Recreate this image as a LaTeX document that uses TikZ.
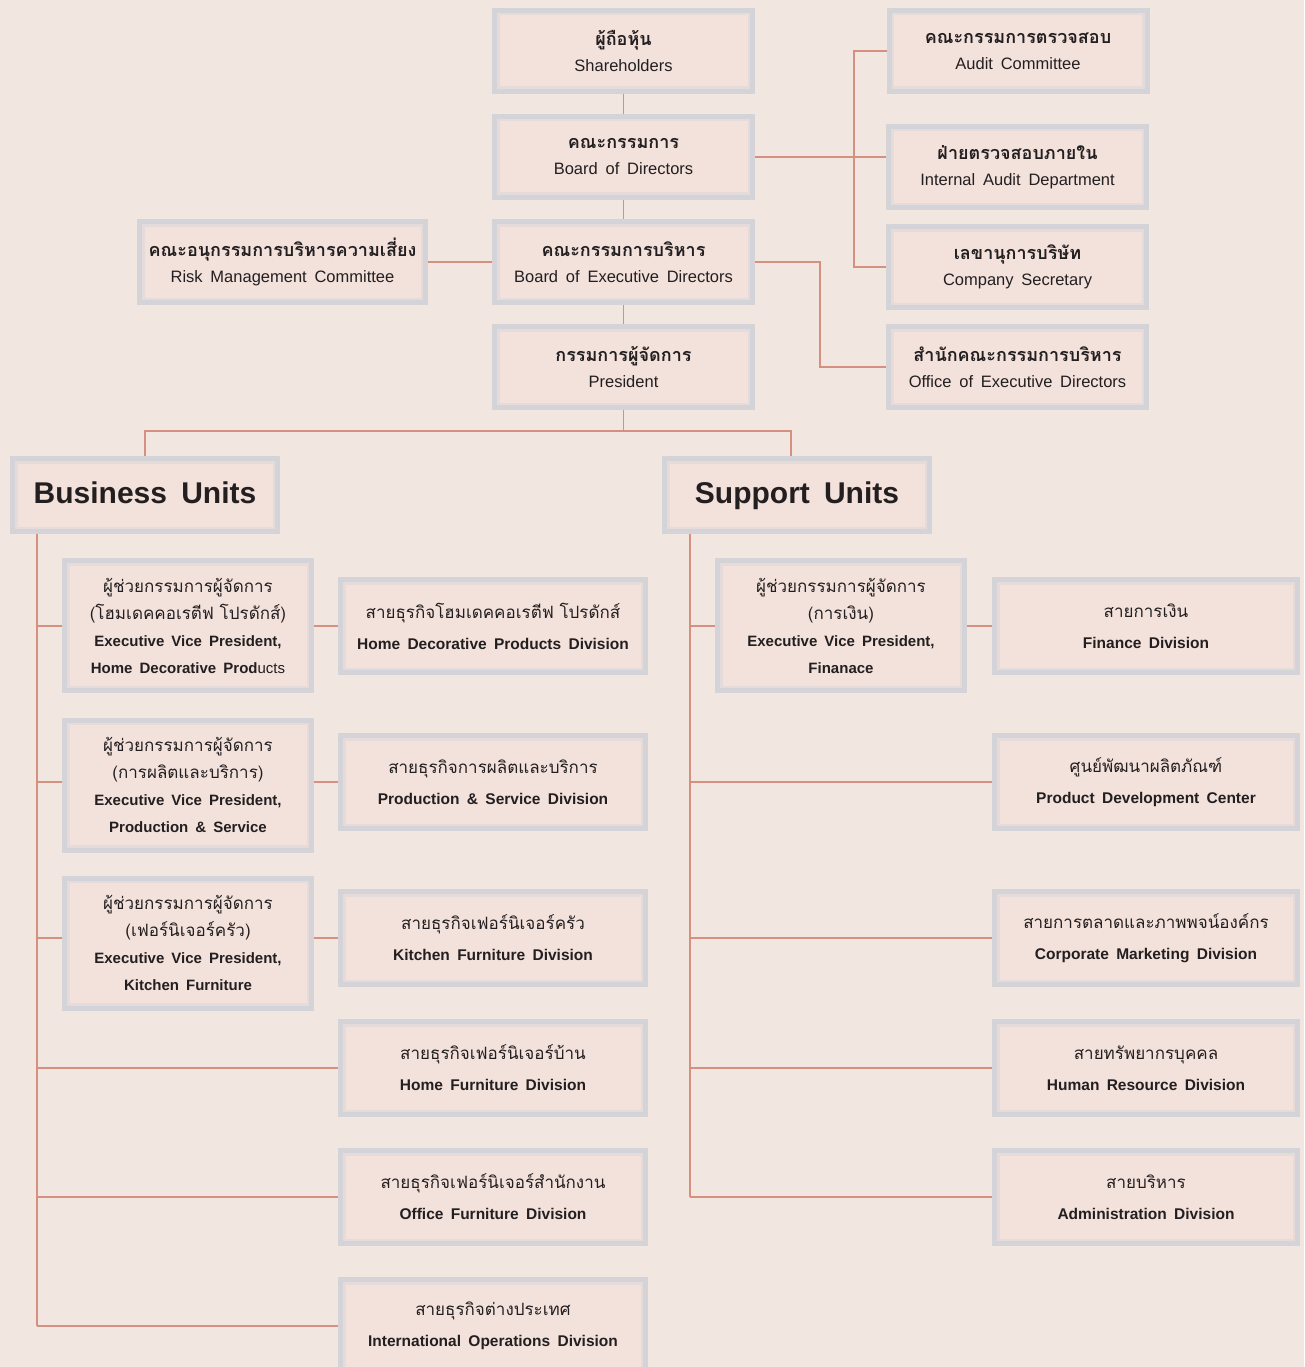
\documentclass[tikz,border=0pt]{standalone}
\usepackage{fontspec}
\setmainfont[WordSpace=1.7]{Liberation Sans}
\newfontfamily\thaifont[Script=Thai]{Loma}
\usetikzlibrary{positioning, calc}

\definecolor{pagebg}{HTML}{F2E6E1}
\definecolor{boxfill}{HTML}{F3E1DB}
\definecolor{boxframe}{HTML}{D4D4D8}
\definecolor{linkline}{HTML}{D6907F}
\definecolor{inktext}{HTML}{231F20}

\newcommand{\thaititle}[1]{{\thaifont\bfseries\fontsize{18}{26}\selectfont #1}}
\newcommand{\thaiplain}[1]{{\thaifont\fontsize{17}{27}\selectfont #1}}

\tikzset{
	unitbox/.style={draw=boxframe, fill=boxfill, line width=5pt, inner sep=0pt,
		align=center, text=inktext,
		path picture={\draw[boxframe!45!boxfill, line width=10pt]
			(path picture bounding box.south west) rectangle (path picture bounding box.north east);}},
	topbox/.style={unitbox, minimum width=258pt, minimum height=81pt, font=\fontsize{16.5}{26}\selectfont},
	groupbox/.style={unitbox, minimum width=265pt, minimum height=73pt, text height=22pt, text depth=6pt,
		font=\fontsize{30}{36}\selectfont\bfseries},
	evpbox/.style={unitbox, minimum width=247pt, minimum height=130pt, font=\fontsize{15}{27}\selectfont},
	divbox/.style={unitbox, minimum width=305pt, minimum height=93pt, font=\fontsize{15.5}{31}\selectfont},
	link/.style={draw=linkline, line width=1.2pt}
}

\begin{document}
\begin{tikzpicture}[x=1pt, y=-1pt]

		%Page
		\useasboundingbox[fill=pagebg] (0,0) rectangle (1304,1367);

		%Board column
		\node (share) at (623.5,51) [topbox]{\thaititle{ผู้ถือหุ้น}\\Shareholders};
		\node (board) at (623.5,157) [topbox]{\thaititle{คณะกรรมการ}\\Board of Directors};
		\node (exec) at (623.5,262) [topbox]{\thaititle{คณะกรรมการบริหาร}\\Board of Executive Directors};
		\node (pres) at (623.5,367) [topbox]{\thaititle{กรรมการผู้จัดการ}\\President};

		%Committees on the right
		\node (audit) at (1018,51) [topbox]{\thaititle{คณะกรรมการตรวจสอบ}\\Audit Committee};
		\node (intaudit) at (1017.5,167) [topbox]{\thaititle{ฝ่ายตรวจสอบภายใน}\\Internal Audit Department};
		\node (secretary) at (1017.5,267) [topbox]{\thaititle{เลขานุการบริษัท}\\Company Secretary};
		\node (office) at (1017.5,367) [topbox]{\thaititle{สำนักคณะกรรมการบริหาร}\\Office of Executive Directors};

		%Risk committee
		\node (risk) at (282.5,262) [topbox, minimum width=286pt]{\thaititle{คณะอนุกรรมการบริหารความเสี่ยง}\\Risk Management Committee};

		%Unit headers
		\node (business) at (145,495) [groupbox]{Business Units};
		\node (support) at (797,495) [groupbox]{Support Units};

		%Business units
		\node (evphome) at (188,625.5) [evpbox]{\thaiplain{ผู้ช่วยกรรมการผู้จัดการ}\\\thaiplain{(โฮมเดคคอเรตีฟ โปรดักส์)}\\{\bfseries Executive Vice President,}\\{\bfseries Home Decorative Prod}ucts};
		\node (evpprod) at (188,785) [evpbox]{\thaiplain{ผู้ช่วยกรรมการผู้จัดการ}\\\thaiplain{(การผลิตและบริการ)}\\{\bfseries Executive Vice President,}\\{\bfseries Production \& Service}};
		\node (evpkitchen) at (188,943) [evpbox]{\thaiplain{ผู้ช่วยกรรมการผู้จัดการ}\\\thaiplain{(เฟอร์นิเจอร์ครัว)}\\{\bfseries Executive Vice President,}\\{\bfseries Kitchen Furniture}};

		\node (homedeco) at (493,626) [divbox]{\thaiplain{สายธุรกิจโฮมเดคคอเรตีฟ โปรดักส์}\\{\bfseries Home Decorative Products Division}};
		\node (prodserv) at (493,782) [divbox]{\thaiplain{สายธุรกิจการผลิตและบริการ}\\{\bfseries Production \& Service Division}};
		\node (kitchen) at (493,938) [divbox]{\thaiplain{สายธุรกิจเฟอร์นิเจอร์ครัว}\\{\bfseries Kitchen Furniture Division}};
		\node (homefurn) at (493,1068) [divbox]{\thaiplain{สายธุรกิจเฟอร์นิเจอร์บ้าน}\\{\bfseries Home Furniture Division}};
		\node (officefurn) at (493,1197) [divbox]{\thaiplain{สายธุรกิจเฟอร์นิเจอร์สำนักงาน}\\{\bfseries Office Furniture Division}};
		\node (intl) at (493,1326) [divbox]{\thaiplain{สายธุรกิจต่างประเทศ}\\{\bfseries International Operations Division}};

		%Support units
		\node (evpfin) at (841,625.5) [evpbox]{\thaiplain{ผู้ช่วยกรรมการผู้จัดการ}\\\thaiplain{(การเงิน)}\\{\bfseries Executive Vice President,}\\{\bfseries Finanace}};

		\node (finance) at (1146,626) [divbox, minimum width=303pt]{\thaiplain{สายการเงิน}\\{\bfseries Finance Division}};
		\node (product) at (1146,782) [divbox, minimum width=303pt]{\thaiplain{ศูนย์พัฒนาผลิตภัณฑ์}\\{\bfseries Product Development Center}};
		\node (marketing) at (1146,938) [divbox, minimum width=303pt]{\thaiplain{สายการตลาดและภาพพจน์องค์กร}\\{\bfseries Corporate Marketing Division}};
		\node (people) at (1146,1068) [divbox, minimum width=303pt]{\thaiplain{สายทรัพยากรบุคคล}\\{\bfseries Human Resource Division}};
		\node (admin) at (1146,1197) [divbox, minimum width=303pt]{\thaiplain{สายบริหาร}\\{\bfseries Administration Division}};

		%Bus lines
		\coordinate (auditbus) at (854,0);
		\coordinate (officebus) at (820,0);
		\coordinate (split) at (623.5,431);
		\coordinate (busline) at (37,0);
		\coordinate (supline) at (690,0);

		%Main chain
		\draw[link] (share) -- (board) -- (exec) -- (pres);
		\draw[link] (risk.east) -- (exec.west);
		\draw[link] (board.east) -- (board.east -| intaudit.west);
		\draw[link] (audit.west) -- (audit.west -| auditbus) |- (secretary.west);
		\draw[link] (exec.east) -- (exec.east -| officebus) |- (office.west);

		%Split into the two groups
		\draw[link] (pres.south) -- (split);
		\draw[link] (business.north) |- (split) -| ([xshift=-6pt]support.north);

		%Business branch
		\draw[link] (business.south -| busline) -- (busline |- intl.west);
		\foreach \boss/\unitname in {evphome/homedeco, evpprod/prodserv, evpkitchen/kitchen}{
			\draw[link] (busline |- \unitname.west) -- (\unitname.west -| \boss.west);
			\draw[link] (\unitname.west -| \boss.east) -- (\unitname.west);
		}
		\foreach \unit in {homefurn, officefurn, intl}
			\draw[link] (busline |- \unit.west) -- (\unit.west);

		%Support branch
		\draw[link] (support.south -| supline) -- (supline |- admin.west);
		\draw[link] (supline |- finance.west) -- (finance.west -| evpfin.west);
		\draw[link] (finance.west -| evpfin.east) -- (finance.west);
		\foreach \unit in {product, marketing, people, admin}
			\draw[link] (supline |- \unit.west) -- (\unit.west);

\end{tikzpicture}
\end{document}
